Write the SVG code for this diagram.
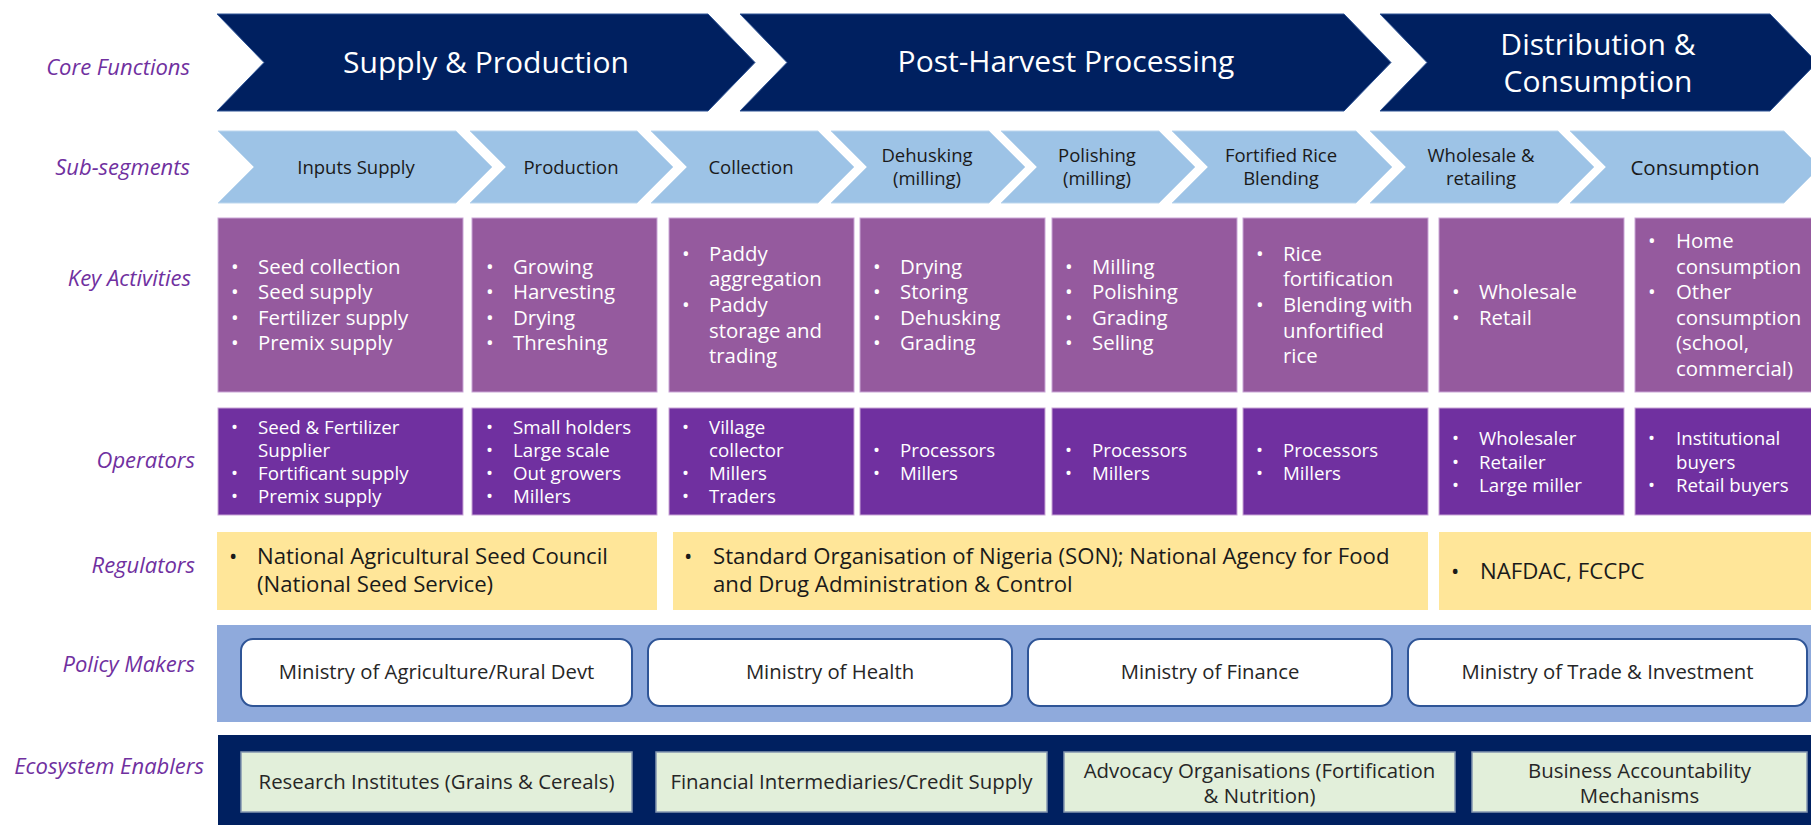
<svg xmlns="http://www.w3.org/2000/svg" width="1811" height="825" viewBox="0 0 1811 825">
<style>
text{font-family:"Open Sans","Liberation Sans",sans-serif}
.lbl{font-style:italic;font-size:22px;fill:#7030a0;text-anchor:end}
.core{fill:#002060;stroke:#2f5597;stroke-width:1}
.coret{fill:#fff;font-size:30px;text-anchor:middle}
.sub{fill:#9dc3e6;stroke:#bdd7ee;stroke-width:1}
.subt{fill:#1a1a1a;font-size:18.5px;text-anchor:middle}
.ka{fill:#955a9e;stroke:#c9a5d6;stroke-width:1}
.kat{fill:#fff;font-size:20.4px}
.op{fill:#7030a0;stroke:#c9a5d6;stroke-width:1}
.opt{fill:#fff;font-size:18.7px}
.reg{fill:#ffe699}
.regt{fill:#1a1a1a;font-size:22.2px}
.pband{fill:#8faadc}
.pbox{fill:#fff;stroke:#2f5597;stroke-width:2}
.pt{fill:#262626;font-size:20.3px;text-anchor:middle}
.eband{fill:#002060}
.ebox{fill:#e2efda;stroke:#8497b0;stroke-width:1.5}
.et{fill:#262626;font-size:20.4px;text-anchor:middle}
</style>

<g id="labels">
<text class="lbl" x="190" y="75">Core Functions</text>
<text class="lbl" x="190" y="175">Sub-segments</text>
<text class="lbl" x="191" y="286">Key Activities</text>
<text class="lbl" x="195" y="468">Operators</text>
<text class="lbl" x="195" y="573">Regulators</text>
<text class="lbl" x="195" y="672">Policy Makers</text>
<text class="lbl" x="204" y="774">Ecosystem Enablers</text>
</g>

<g id="core-supply-production">
<polygon class="core" points="217,14 708,14 755,62.5 708,111 217,111 264,62.5"/>
<text class="coret" x="486" y="73">Supply &amp; Production</text>
</g>
<g id="core-post-harvest">
<polygon class="core" points="740,14 1344,14 1391,62.5 1344,111 740,111 787,62.5"/>
<text class="coret" x="1066" y="72">Post-Harvest Processing</text>
</g>
<g id="core-distribution">
<polygon class="core" points="1380,14 1770,14 1817,62.5 1770,111 1380,111 1427,62.5"/>
<text class="coret" x="1598" y="55">Distribution &amp;</text>
<text class="coret" x="1598" y="92">Consumption</text>
</g>

<g id="sub-inputs">
<polygon class="sub" points="218,131 456,131 492,167 456,203 218,203 254,167"/>
<text class="subt" x="356" y="174">Inputs Supply</text>
</g>
<g id="sub-production">
<polygon class="sub" points="470,131 637,131 673,167 637,203 470,203 506,167"/>
<text class="subt" x="571" y="174">Production</text>
</g>
<g id="sub-collection">
<polygon class="sub" points="651,131 818,131 854,167 818,203 651,203 687,167"/>
<text class="subt" x="751" y="174">Collection</text>
</g>
<g id="sub-dehusking">
<polygon class="sub" points="831,131 989,131 1025,167 989,203 831,203 867,167"/>
<text class="subt" x="927" y="162">Dehusking</text>
<text class="subt" x="927" y="185">(milling)</text>
</g>
<g id="sub-polishing">
<polygon class="sub" points="1001,131 1159,131 1195,167 1159,203 1001,203 1037,167"/>
<text class="subt" x="1097" y="162">Polishing</text>
<text class="subt" x="1097" y="185">(milling)</text>
</g>
<g id="sub-fortified">
<polygon class="sub" points="1172,131 1356,131 1392,167 1356,203 1172,203 1208,167"/>
<text class="subt" x="1281" y="162">Fortified Rice</text>
<text class="subt" x="1281" y="185">Blending</text>
</g>
<g id="sub-wholesale">
<polygon class="sub" points="1370,131 1558,131 1594,167 1558,203 1370,203 1406,167"/>
<text class="subt" x="1481" y="162">Wholesale &amp;</text>
<text class="subt" x="1481" y="185">retailing</text>
</g>
<g id="sub-consumption">
<polygon class="sub" points="1570,131 1784,131 1820,167 1784,203 1570,203 1606,167"/>
<text class="subt" x="1695" y="174.5" style="font-size:20.5px">Consumption</text>
</g>

<g id="ka-1">
<rect class="ka" x="218" y="218" width="245" height="174"/>
<text class="kat" x="231" y="273.6">•</text><text class="kat" x="258" y="273.6">Seed collection</text>
<text class="kat" x="231" y="299.2">•</text><text class="kat" x="258" y="299.2">Seed supply</text>
<text class="kat" x="231" y="324.8">•</text><text class="kat" x="258" y="324.8">Fertilizer supply</text>
<text class="kat" x="231" y="350.4">•</text><text class="kat" x="258" y="350.4">Premix supply</text>
</g>
<g id="ka-2">
<rect class="ka" x="472" y="218" width="185" height="174"/>
<text class="kat" x="486" y="273.6">•</text><text class="kat" x="513" y="273.6">Growing</text>
<text class="kat" x="486" y="299.2">•</text><text class="kat" x="513" y="299.2">Harvesting</text>
<text class="kat" x="486" y="324.8">•</text><text class="kat" x="513" y="324.8">Drying</text>
<text class="kat" x="486" y="350.4">•</text><text class="kat" x="513" y="350.4">Threshing</text>
</g>
<g id="ka-3">
<rect class="ka" x="669" y="218" width="185" height="174"/>
<text class="kat" x="682" y="260.8">•</text><text class="kat" x="709" y="260.8">Paddy</text>
<text class="kat" x="709" y="286.4">aggregation</text>
<text class="kat" x="682" y="312">•</text><text class="kat" x="709" y="312">Paddy</text>
<text class="kat" x="709" y="337.6">storage and</text>
<text class="kat" x="709" y="363.2">trading</text>
</g>
<g id="ka-4">
<rect class="ka" x="860" y="218" width="185" height="174"/>
<text class="kat" x="873" y="273.6">•</text><text class="kat" x="900" y="273.6">Drying</text>
<text class="kat" x="873" y="299.2">•</text><text class="kat" x="900" y="299.2">Storing</text>
<text class="kat" x="873" y="324.8">•</text><text class="kat" x="900" y="324.8">Dehusking</text>
<text class="kat" x="873" y="350.4">•</text><text class="kat" x="900" y="350.4">Grading</text>
</g>
<g id="ka-5">
<rect class="ka" x="1052" y="218" width="185" height="174"/>
<text class="kat" x="1065" y="273.6">•</text><text class="kat" x="1092" y="273.6">Milling</text>
<text class="kat" x="1065" y="299.2">•</text><text class="kat" x="1092" y="299.2">Polishing</text>
<text class="kat" x="1065" y="324.8">•</text><text class="kat" x="1092" y="324.8">Grading</text>
<text class="kat" x="1065" y="350.4">•</text><text class="kat" x="1092" y="350.4">Selling</text>
</g>
<g id="ka-6">
<rect class="ka" x="1243" y="218" width="185" height="174"/>
<text class="kat" x="1256" y="260.8">•</text><text class="kat" x="1283" y="260.8">Rice</text>
<text class="kat" x="1283" y="286.4">fortification</text>
<text class="kat" x="1256" y="312">•</text><text class="kat" x="1283" y="312">Blending with</text>
<text class="kat" x="1283" y="337.6">unfortified</text>
<text class="kat" x="1283" y="363.2">rice</text>
</g>
<g id="ka-7">
<rect class="ka" x="1439" y="218" width="185" height="174"/>
<text class="kat" x="1452" y="299.2">•</text><text class="kat" x="1479" y="299.2">Wholesale</text>
<text class="kat" x="1452" y="324.8">•</text><text class="kat" x="1479" y="324.8">Retail</text>
</g>
<g id="ka-8">
<rect class="ka" x="1635" y="218" width="190" height="174"/>
<text class="kat" x="1648" y="248">•</text><text class="kat" x="1676" y="248">Home</text>
<text class="kat" x="1676" y="273.6">consumption</text>
<text class="kat" x="1648" y="299.2">•</text><text class="kat" x="1676" y="299.2">Other</text>
<text class="kat" x="1676" y="324.8">consumption</text>
<text class="kat" x="1676" y="350.4">(school,</text>
<text class="kat" x="1676" y="376">commercial)</text>
</g>

<g id="op-1">
<rect class="op" x="218" y="408" width="245" height="107"/>
<text class="opt" x="231" y="433.5">•</text><text class="opt" x="258" y="433.5">Seed &amp; Fertilizer</text>
<text class="opt" x="258" y="456.8">Supplier</text>
<text class="opt" x="231" y="480.1">•</text><text class="opt" x="258" y="480.1">Fortificant supply</text>
<text class="opt" x="231" y="503.4">•</text><text class="opt" x="258" y="503.4">Premix supply</text>
</g>
<g id="op-2">
<rect class="op" x="472" y="408" width="185" height="107"/>
<text class="opt" x="486" y="433.5">•</text><text class="opt" x="513" y="433.5">Small holders</text>
<text class="opt" x="486" y="456.8">•</text><text class="opt" x="513" y="456.8">Large scale</text>
<text class="opt" x="486" y="480.1">•</text><text class="opt" x="513" y="480.1">Out growers</text>
<text class="opt" x="486" y="503.4">•</text><text class="opt" x="513" y="503.4">Millers</text>
</g>
<g id="op-3">
<rect class="op" x="669" y="408" width="185" height="107"/>
<text class="opt" x="682" y="433.5">•</text><text class="opt" x="709" y="433.5">Village</text>
<text class="opt" x="709" y="456.8">collector</text>
<text class="opt" x="682" y="480.1">•</text><text class="opt" x="709" y="480.1">Millers</text>
<text class="opt" x="682" y="503.4">•</text><text class="opt" x="709" y="503.4">Traders</text>
</g>
<g id="op-4">
<rect class="op" x="860" y="408" width="185" height="107"/>
<text class="opt" x="873" y="456.8">•</text><text class="opt" x="900" y="456.8">Processors</text>
<text class="opt" x="873" y="480.1">•</text><text class="opt" x="900" y="480.1">Millers</text>
</g>
<g id="op-5">
<rect class="op" x="1052" y="408" width="185" height="107"/>
<text class="opt" x="1065" y="456.8">•</text><text class="opt" x="1092" y="456.8">Processors</text>
<text class="opt" x="1065" y="480.1">•</text><text class="opt" x="1092" y="480.1">Millers</text>
</g>
<g id="op-6">
<rect class="op" x="1243" y="408" width="185" height="107"/>
<text class="opt" x="1256" y="456.8">•</text><text class="opt" x="1283" y="456.8">Processors</text>
<text class="opt" x="1256" y="480.1">•</text><text class="opt" x="1283" y="480.1">Millers</text>
</g>
<g id="op-7">
<rect class="op" x="1439" y="408" width="185" height="107"/>
<text class="opt" x="1452" y="445.2">•</text><text class="opt" x="1479" y="445.2">Wholesaler</text>
<text class="opt" x="1452" y="468.5">•</text><text class="opt" x="1479" y="468.5">Retailer</text>
<text class="opt" x="1452" y="491.8">•</text><text class="opt" x="1479" y="491.8">Large miller</text>
</g>
<g id="op-8">
<rect class="op" x="1635" y="408" width="190" height="107"/>
<text class="opt" x="1648" y="445.2">•</text><text class="opt" x="1676" y="445.2">Institutional</text>
<text class="opt" x="1676" y="468.5">buyers</text>
<text class="opt" x="1648" y="491.8">•</text><text class="opt" x="1676" y="491.8">Retail buyers</text>
</g>

<g id="reg-1">
<rect class="reg" x="217" y="532" width="440" height="78"/>
<text class="regt" x="229" y="564">•</text><text class="regt" x="257" y="564">National Agricultural Seed Council</text>
<text class="regt" x="257" y="592">(National Seed Service)</text>
</g>
<g id="reg-2">
<rect class="reg" x="673" y="532" width="755" height="78"/>
<text class="regt" x="684" y="564">•</text><text class="regt" x="713" y="564">Standard Organisation of Nigeria (SON); National Agency for Food</text>
<text class="regt" x="713" y="592">and Drug Administration &amp; Control</text>
</g>
<g id="reg-3">
<rect class="reg" x="1439" y="532" width="380" height="78"/>
<text class="regt" x="1451" y="579">•</text><text class="regt" x="1480" y="579">NAFDAC, FCCPC</text>
</g>

<rect class="pband" x="217" y="625" width="1600" height="97"/>
<g id="pol-agriculture">
<rect class="pbox" x="241" y="639" width="391" height="67" rx="12"/>
<text class="pt" x="436.5" y="679">Ministry of Agriculture/Rural Devt</text>
</g>
<g id="pol-health">
<rect class="pbox" x="648" y="639" width="364" height="67" rx="12"/>
<text class="pt" x="830" y="679">Ministry of Health</text>
</g>
<g id="pol-finance">
<rect class="pbox" x="1028" y="639" width="364" height="67" rx="12"/>
<text class="pt" x="1210" y="679">Ministry of Finance</text>
</g>
<g id="pol-trade">
<rect class="pbox" x="1408" y="639" width="399" height="67" rx="12"/>
<text class="pt" x="1607.5" y="679">Ministry of Trade &amp; Investment</text>
</g>

<rect class="eband" x="218" y="735" width="1600" height="95"/>
<g id="eco-research">
<rect class="ebox" x="241" y="752" width="391" height="60"/>
<text class="et" x="436.5" y="788.5">Research Institutes (Grains &amp; Cereals)</text>
</g>
<g id="eco-financial">
<rect class="ebox" x="656" y="752" width="391" height="60"/>
<text class="et" x="851.5" y="788.5">Financial Intermediaries/Credit Supply</text>
</g>
<g id="eco-advocacy">
<rect class="ebox" x="1064" y="752" width="391" height="60"/>
<text class="et" x="1259.5" y="777.5">Advocacy Organisations (Fortification</text>
<text class="et" x="1259.5" y="802.5">&amp; Nutrition)</text>
</g>
<g id="eco-business">
<rect class="ebox" x="1472" y="752" width="335" height="60"/>
<text class="et" x="1639.5" y="777.5">Business Accountability</text>
<text class="et" x="1639.5" y="802.5">Mechanisms</text>
</g>

<g id="connectors"></g>
</svg>
